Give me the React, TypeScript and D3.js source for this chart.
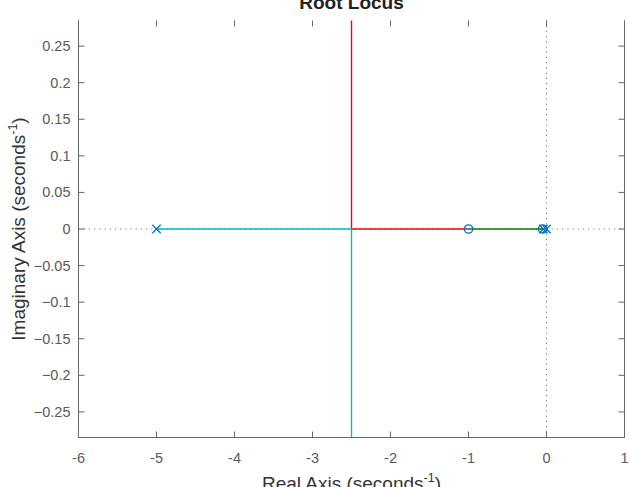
import React from "react";
import * as d3 from "d3";

// root locus data (real / imaginary parts, seconds^-1)
const xTicks = [-6, -5, -4, -3, -2, -1, 0, 1];
const yTicks = [-0.25, -0.2, -0.15, -0.1, -0.05, 0, 0.05, 0.1, 0.15, 0.2, 0.25];

const redRe = [-1, -2.5, -2.5];
const redIm = [0, 0, 0.3];
const greenRe = [-0.03, -1];
const greenIm = [0, 0];
const cyanRe = [-5, -2.5, -2.5];
const cyanIm = [0, 0, -0.3];

const poleRe = [-5, -0.04, 0];
const zeroRe = [-1, -0.05];

const width = 630;
const height = 487;

export default function App() {
  const x = d3.scaleLinear().domain([-6, 1]).range([78.5, 624.5]);
  const y = d3.scaleLinear().domain([-0.285, 0.285]).range([437.5, 20.5]);
  const [x0, x1] = x.range();
  const [y0, y1] = y.range();

  const line = d3
    .line<[number, number]>()
    .x((d) => x(d[0]))
    .y((d) => y(d[1]));
  const zip = (re: number[], im: number[]) =>
    re.map((r, i) => [r, im[i]] as [number, number]);

  const branches = [
    { pts: zip(redRe, redIm), color: "#ff0000" },
    { pts: zip(cyanRe, cyanIm), color: "#00bfbf" },
    { pts: zip(greenRe, greenIm), color: "#008000" },
  ];

  const axisColor = "#666";
  const textColor = "#5a5a5a";
  const font = "Arial, 'Liberation Sans', Helvetica, sans-serif";
  const tick = 6;
  const blue = "#0072bd";

  return (
    <svg
      width={width}
      height={height}
      style={{ position: "absolute", left: 0, top: 0, background: "#fff" }}
      fontFamily={font}
    >
      <defs>
        <clipPath id="plot">
          <rect x={x0} y={y1} width={x1 - x0} height={y0 - y1} />
        </clipPath>
      </defs>

      {/* dotted axes through origin */}
      <line x1={x0} x2={x1} y1={y(0)} y2={y(0)} stroke="#777" strokeDasharray="1.2,4" />
      <line x1={x(0)} x2={x(0)} y1={y1} y2={y0} stroke="#777" strokeDasharray="1.2,4" />

      {/* branches */}
      <g clipPath="url(#plot)">
        {branches.map((b, i) => (
          <path key={i} d={line(b.pts) || ""} fill="none" stroke={b.color} strokeWidth={1.4} />
        ))}
      </g>

      {/* poles & zeros */}
      {zeroRe.map((r, i) => (
        <circle key={"z" + i} cx={x(r)} cy={y(0)} r={4.2} fill="none" stroke={blue} strokeWidth={1.3} />
      ))}
      {poleRe.map((r, i) => {
        const cx = x(r);
        const cy = y(0);
        const s = 4.2;
        return (
          <path
            key={"p" + i}
            d={`M${cx - s},${cy - s}L${cx + s},${cy + s}M${cx - s},${cy + s}L${cx + s},${cy - s}`}
            stroke={blue}
            strokeWidth={1.3}
          />
        );
      })}

      {/* axes box (no top line) */}
      <g stroke={axisColor} strokeWidth={1} fill="none">
        <line x1={x0} x2={x0} y1={y1} y2={y0} />
        <line x1={x1} x2={x1} y1={y1} y2={y0} />
        <line x1={x0} x2={x1} y1={y0} y2={y0} />
        {xTicks.map((t) => (
          <g key={"xt" + t}>
            <line x1={x(t)} x2={x(t)} y1={y0} y2={y0 - tick} />
            <line x1={x(t)} x2={x(t)} y1={y1} y2={y1 + tick} />
          </g>
        ))}
        {yTicks.map((t) => (
          <g key={"yt" + t}>
            <line x1={x0} x2={x0 + tick} y1={y(t)} y2={y(t)} />
            <line x1={x1} x2={x1 - tick} y1={y(t)} y2={y(t)} />
          </g>
        ))}
      </g>

      {/* tick labels */}
      <g fill={textColor} fontSize={14.5}>
        {xTicks.map((t) => (
          <text key={"xl" + t} x={x(t)} y={y0 + 25} textAnchor="middle">
            {t}
          </text>
        ))}
        {yTicks.map((t) => (
          <text key={"yl" + t} x={x0 - 8} y={y(t) + 5} textAnchor="end">
            {d3.format("~g")(+t.toFixed(2))}
          </text>
        ))}
      </g>

      {/* title and axis labels */}
      <text x={(x0 + x1) / 2} y={9} textAnchor="middle" fontSize={19} fontWeight="bold" fill="#222">
        Root Locus
      </text>
      <text x={(x0 + x1) / 2} y={490} textAnchor="middle" fontSize={19} fill="#333">
        Real Axis (seconds
        <tspan fontSize={12.5} dy={-8}>-1</tspan>
        <tspan dy={8}>)</tspan>
      </text>
      <text
        transform={`translate(25,${(y0 + y1) / 2}) rotate(-90)`}
        textAnchor="middle"
        fontSize={19}
        fill="#333"
      >
        Imaginary Axis (seconds
        <tspan fontSize={12.5} dy={-8}>-1</tspan>
        <tspan dy={8}>)</tspan>
      </text>
    </svg>
  );
}
